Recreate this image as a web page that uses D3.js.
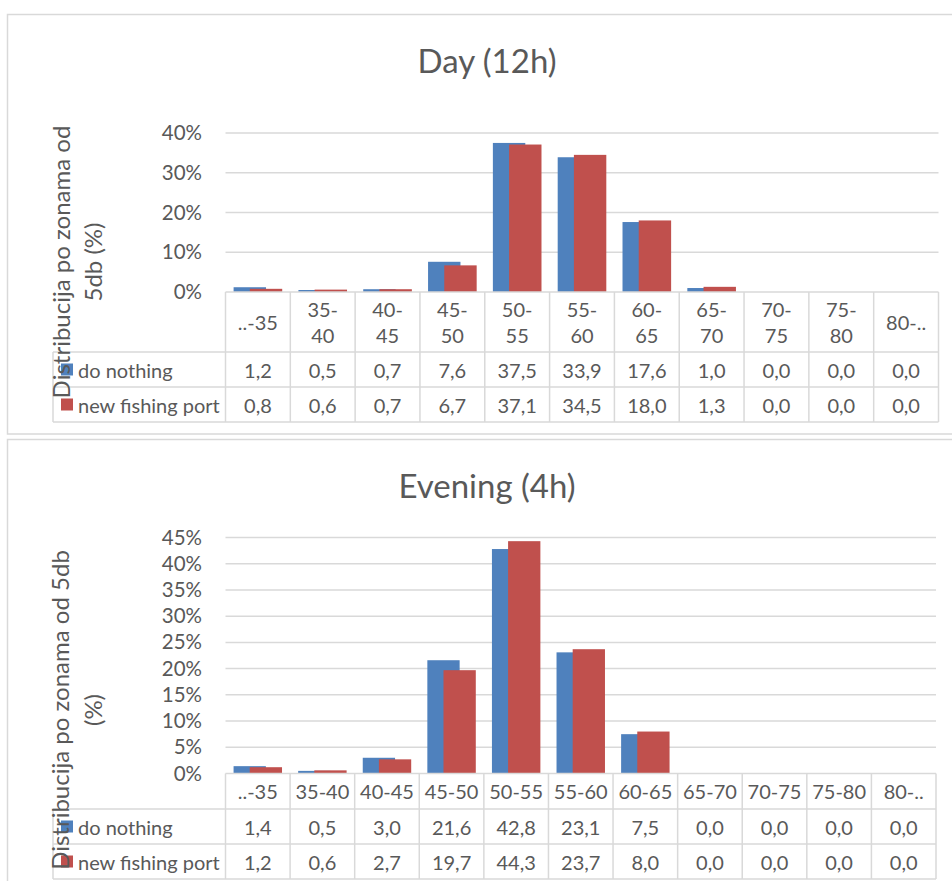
<!DOCTYPE html>
<html><head><meta charset="utf-8">
<script src="https://cdn.jsdelivr.net/npm/d3@7"></script>
<style>html,body{margin:0;padding:0;background:#fff;}svg{display:block;}</style>
</head><body>
<script>
const categoriesDay = ["..-35","35-40","40-45","45-50","50-55","55-60","60-65","65-70","70-75","75-80","80-.."];
const categoriesEvening = ["..-35","35-40","40-45","45-50","50-55","55-60","60-65","65-70","70-75","75-80","80-.."];
const seriesNames = ["do nothing","new fishing port"];
const dayDoNothing = [1.2,0.5,0.7,7.6,37.5,33.9,17.6,1.0,0.0,0.0,0.0];
const dayNewPort = [0.8,0.6,0.7,6.7,37.1,34.5,18.0,1.3,0.0,0.0,0.0];
const eveningDoNothing = [1.4,0.5,3.0,21.6,42.8,23.1,7.5,0.0,0.0,0.0,0.0];
const eveningNewPort = [1.2,0.6,2.7,19.7,44.3,23.7,8.0,0.0,0.0,0.0,0.0];
const dayTicks = [0,10,20,30,40];
const eveningTicks = [0,5,10,15,20,25,30,35,40,45];

const colors = ["#4F81BD","#C0504D"];
const txt = "#595959", grid = "#d9d9d9";
const FONT = "Lato, 'Noto Sans', sans-serif";

const W = 952, H = 881;
const svg = d3.select("body").append("svg").attr("width",W).attr("height",H)
  .style("font-family",FONT);

function drawChart(o){
  const g = svg.append("g");
  g.append("rect").attr("x",7.5).attr("y",o.frameTop).attr("width",960).attr("height",o.frameH)
    .attr("fill","#fff").attr("stroke",grid).attr("stroke-width",1.5);
  g.append("text").attr("x",487).attr("y",o.titleY).attr("text-anchor","middle")
    .attr("dominant-baseline","central").attr("fill",txt).style("font-size","33px").text(o.title);

  const x = d3.scaleBand().domain(o.cats).range([o.left,o.right]).padding(0);
  const y = d3.scaleLinear().domain([0,d3.max(o.ticks)]).range([o.y0,o.yTop]);
  const bw = x.bandwidth();

  g.append("g").selectAll("line").data(o.ticks.slice(1)).join("line")
    .attr("x1",o.left).attr("x2",o.right).attr("y1",d=>y(d)).attr("y2",d=>y(d))
    .attr("stroke",grid).attr("stroke-width",1.5);
  const ax = d3.axisLeft(y).tickValues(o.ticks).tickFormat(d=>d+"%").tickSize(0).tickPadding(0);
  const axg = g.append("g").attr("transform",`translate(${o.tickX},0)`).call(ax);
  axg.select(".domain").remove();
  axg.selectAll("text").attr("fill",txt).style("font-size","20.5px").style("font-family",FONT);

  const series = [o.s1,o.s2];
  series.forEach((vals,si)=>{
    g.append("g").selectAll("rect").data(vals).join("rect")
      .attr("x",(d,i)=>x(o.cats[i]) + bw*(0.125 + 0.25*si))
      .attr("width",bw*0.5)
      .attr("y",d=>y(d))
      .attr("height",d=>o.y0 - y(d))
      .attr("fill",colors[si]);
  });

  const t = g.append("g").attr("stroke",grid).attr("stroke-width",1.5);
  const hdrB = o.rows[0], r1B = o.rows[1], r2B = o.rows[2];
  t.append("line").attr("x1",o.left).attr("x2",o.right).attr("y1",o.y0).attr("y2",o.y0);
  t.append("line").attr("x1",53).attr("x2",o.right).attr("y1",hdrB).attr("y2",hdrB);
  t.append("line").attr("x1",53).attr("x2",o.right).attr("y1",r1B).attr("y2",r1B);
  t.append("line").attr("x1",53).attr("x2",o.right).attr("y1",r2B).attr("y2",r2B);
  t.append("line").attr("x1",53).attr("x2",53).attr("y1",hdrB).attr("y2",r2B);
  t.selectAll(".v").data(d3.range(o.cats.length+1)).join("line")
    .attr("x1",i=>o.left + i*bw).attr("x2",i=>o.left + i*bw)
    .attr("y1",o.y0).attr("y2",r2B);

  const hdr = g.append("g").attr("fill",txt).style("font-size","20px");
  o.cats.forEach((c,i)=>{
    const cx = x(c)+bw/2;
    const lines = (o.wrap && c.indexOf("..")<0) ? [c.split("-")[0]+"-", c.split("-")[1]] : [c];
    const mid = (o.y0+hdrB)/2;
    lines.forEach((l,li)=>{
      hdr.append("text").attr("x",cx).attr("y",mid + (li-(lines.length-1)/2)*26)
        .attr("text-anchor","middle").attr("dominant-baseline","central").text(l);
    });
  });
  const rowsY = [(hdrB+r1B)/2,(r1B+r2B)/2];
  series.forEach((vals,si)=>{
    g.append("g").selectAll("text").data(vals).join("text")
      .attr("x",(d,i)=>x(o.cats[i])+bw/2).attr("y",rowsY[si])
      .attr("text-anchor","middle").attr("dominant-baseline","central")
      .attr("fill",txt).style("font-size","20px")
      .text(d=>d3.format(".1f")(d).replace(".",","));
    g.append("rect").attr("x",61).attr("y",rowsY[si]-6).attr("width",12).attr("height",12).attr("fill",colors[si]);
    g.append("text").attr("x",78).attr("y",rowsY[si]).attr("dominant-baseline","central")
      .attr("fill",txt).style("font-size","20px").text(seriesNames[si]);
  });

  o.yTitle.forEach((l,li)=>{
    g.append("text").attr("transform",`translate(${o.yTitleX[li]},${o.yTitleY}) rotate(-90)`)
      .attr("text-anchor","middle").attr("dominant-baseline","central")
      .attr("fill",txt).style("font-size","24px").text(l);
  });
}

drawChart({
  frameTop:14.5, frameH:419.5, title:"Day (12h)", titleY:60,
  cats:categoriesDay, s1:dayDoNothing, s2:dayNewPort, ticks:dayTicks,
  left:225.5, right:938.5, y0:292, yTop:133, tickX:202,
  rows:[352,387,422], wrap:true,
  yTitle:["Distribucija po zonama od","5db (%)"], yTitleX:[60,92], yTitleY:262
});
drawChart({
  frameTop:439.5, frameH:460, title:"Evening (4h)", titleY:485,
  cats:categoriesEvening, s1:eveningDoNothing, s2:eveningNewPort, ticks:eveningTicks,
  left:225.5, right:936, y0:773.5, yTop:537.5, tickX:202,
  rows:[809,844,879], wrap:false,
  yTitle:["Distribucija po zonama od 5db","(%)"], yTitleX:[59,92], yTitleY:710
});
</script>
</body></html>
